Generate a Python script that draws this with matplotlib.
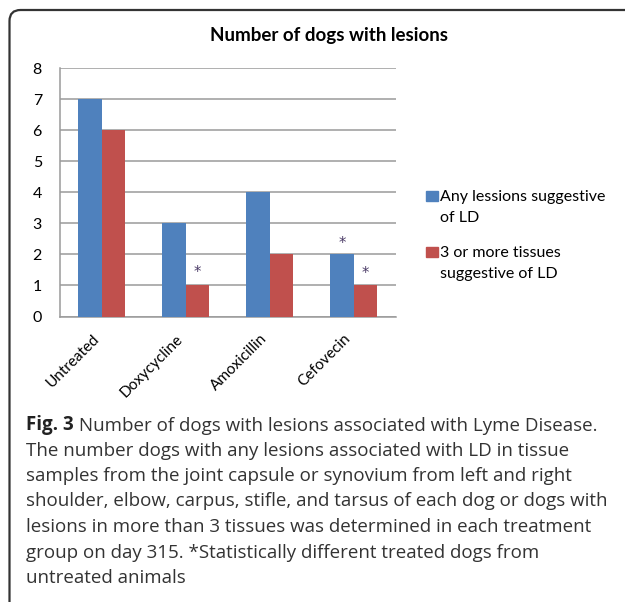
import numpy as np
import matplotlib
matplotlib.use("Agg")
import matplotlib.pyplot as plt
from matplotlib.path import Path
from matplotlib.patches import PathPatch, Rectangle

# donnees
categories = ["Untreated", "Doxycycline", "Amoxicillin", "Cefovecin"]
any_lesions = [7, 3, 4, 2]
three_or_more = [6, 1, 2, 1]
# asterisques : (categorie, serie, hauteur)
stars = [(1, 1, 1.42), (3, 0, 2.35), (3, 1, 1.38)]

blue = "#4F81BD"
red = "#C0504D"
grid_col = "#9a9a9a"

W, H = 625, 605


def fx(px):
    return px / W


def fy(py):
    return 1 - py / H


fig = plt.figure(figsize=(W / 100, H / 100), dpi=100)

# cadre arrondi (haut et gauche seulement)
verts = [(fx(9.5), fy(602)), (fx(9.5), fy(21)), (fx(9.5), fy(10)), (fx(20.5), fy(10)), (fx(W + 5), fy(10))]
codes = [Path.MOVETO, Path.LINETO, Path.CURVE3, Path.CURVE3, Path.LINETO]
fig.patches.append(PathPatch(Path(verts, codes), transform=fig.transFigure,
                             fill=False, edgecolor="#333333", lw=1.6))

ax = fig.add_axes([fx(60), fy(316.5), fx(395.6) - fx(60), fy(68.3) - fy(316.5)])

x = np.arange(len(categories))
bw = 0.28
ax.bar(x - bw / 2, any_lesions, bw, color=blue, zorder=3)
ax.bar(x + bw / 2, three_or_more, bw, color=red, zorder=3)

ax.set_xlim(-0.5, len(categories) - 0.5)
ax.set_ylim(0, 8)
ax.set_yticks(range(0, 9))
ax.yaxis.grid(True, color=grid_col, lw=1.1, zorder=0)

# cacher les cadres : haut et droit
ax.spines["right"].set_visible(False)
ax.spines["top"].set_visible(False)
ax.spines["left"].set_color(grid_col)
ax.spines["bottom"].set_color(grid_col)
ax.spines["left"].set_linewidth(1.1)
ax.spines["bottom"].set_linewidth(1.1)

ax.set_xticks(x)
ax.set_xticklabels(categories, rotation=45, ha="right", va="top",
                   fontfamily="Lato", fontsize=11)
ax.tick_params(axis="x", length=0, pad=11)
ax.tick_params(axis="y", length=0, pad=13, labelsize=11.5)
for t in ax.get_yticklabels():
    t.set_fontfamily("Lato")

for ci, si, h in stars:
    xs = x[ci] + (bw / 2 if si == 1 else -bw / 2)
    ax.text(xs, h, "*", ha="center", va="center", fontsize=10.5,
            color="#4a3a66", fontfamily="DejaVu Sans")

# titre
fig.text(fx(328.6), fy(35), "Number of dogs with lesions", ha="center", va="center",
         fontfamily="Lato", fontweight="bold", fontsize=13.5)

# legende
for col, lines, base in [(blue, ["Any lessions suggestive", "of LD"], 201.5),
                         (red, ["3 or more tissues", "suggestive of LD"], 257)]:
    fig.patches.append(Rectangle((fx(425.5), fy(base)), fx(12), fy(0) - fy(10.5),
                                 transform=fig.transFigure, color=col))
    for i, ln in enumerate(lines):
        fig.text(fx(440), fy(base + 21 * i), ln, ha="left", va="baseline",
                 fontfamily="Lato", fontsize=11.5)

# legende de la figure
caption = [
    "The number dogs with any lesions associated with LD in tissue",
    "samples from the joint capsule or synovium from left and right",
    "shoulder, elbow, carpus, stifle, and tarsus of each dog or dogs with",
    "lesions in more than 3 tissues was determined in each treatment",
    "group on day 315. *Statistically different treated dogs from",
    "untreated animals",
]
cap_size = 13.5
cap_col = "#333333"
t1 = fig.text(fx(26), fy(430), "Fig. 3", ha="left", va="baseline",
              fontfamily="Open Sans", fontweight="bold", fontsize=cap_size, color="#222222")
ax.annotate(" Number of dogs with lesions associated with Lyme Disease.", xy=(1, 0),
            xycoords=t1, ha="left", va="bottom", fontfamily="Open Sans",
            fontsize=cap_size, color=cap_col, annotation_clip=False)
for i, ln in enumerate(caption):
    fig.text(fx(26), fy(430 + 25.5 * (i + 1)), ln, ha="left", va="baseline",
             fontfamily="Open Sans", fontsize=cap_size, color=cap_col)

fig.savefig("out.png", dpi=100)
